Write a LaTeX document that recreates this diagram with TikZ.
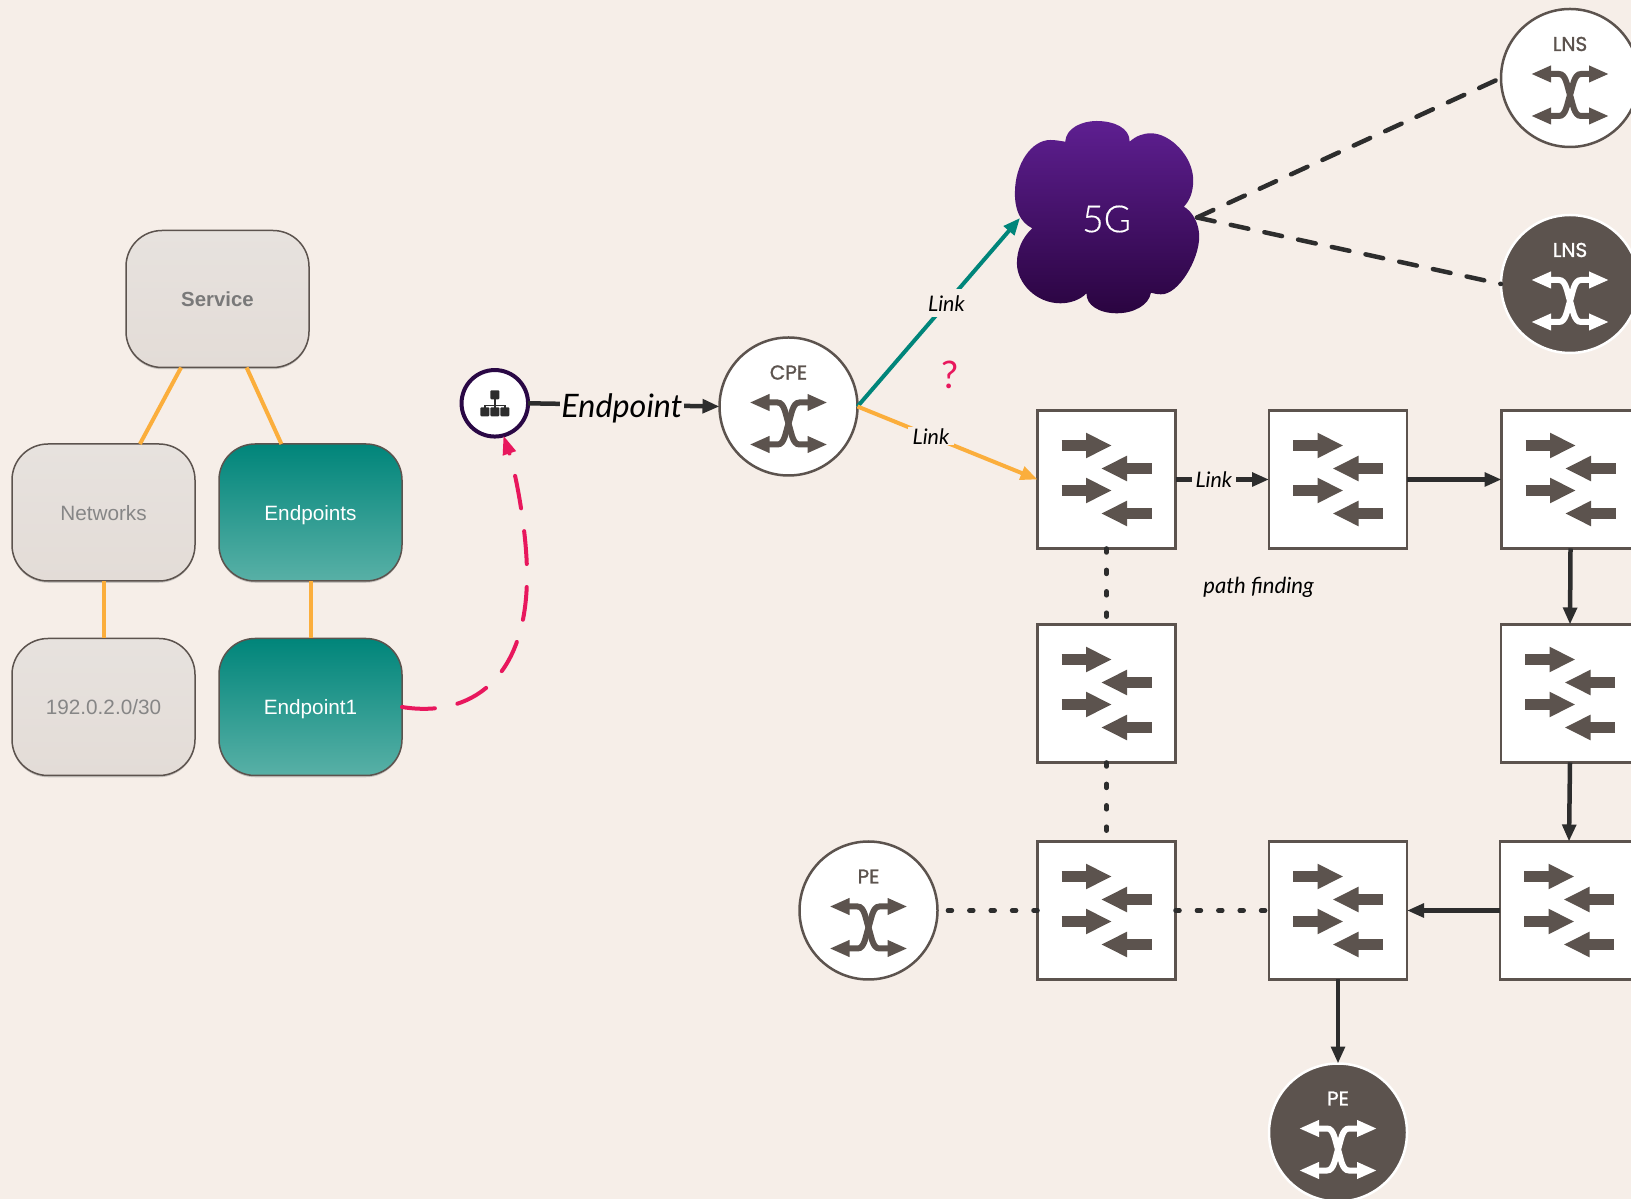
\documentclass[tikz,border=0pt]{standalone}
\usepackage{fontspec}
\setmainfont{Lato}
\newfontfamily\helvFont{Liberation Sans}
\newfontfamily\poppinsFont[FakeBold=1.2]{Poppins}
\newfontfamily\lightFont[FakeBold=0.4]{Lato Light}
\usetikzlibrary{arrows.meta,calc,shadows}
\definecolor{bgPaper}{HTML}{F6EEE8}
\definecolor{stoneDark}{HTML}{5C534E}
\definecolor{inkDark}{HTML}{2D2D2D}
\definecolor{linkOrange}{HTML}{FBAE3C}
\definecolor{linkTeal}{HTML}{00857A}
\definecolor{linkPink}{HTML}{E8175D}
\definecolor{endpointPurple}{HTML}{2A0845}
\tikzset{
  softbox/.style={rectangle, rounded corners=0.36cm, minimum width=1.83cm, minimum height=1.37cm, draw=stoneDark, line width=0.015cm, outer sep=0pt, inner sep=0pt, text height=6pt, text depth=1.6pt, drop shadow={shadow xshift=0pt, shadow yshift=-0.5pt, opacity=0.4}},
  graybox/.style={softbox, top color=E7top, bottom color=E3bot, text=gray!95, font=\helvFont\fontsize{5.9}{8}\selectfont},
  tealbox/.style={softbox, top color=linkTeal, bottom color=tealbot, text=white, font=\helvFont\fontsize{5.9}{8}\selectfont},
  router/.style={circle, minimum size=1.38cm, inner sep=0pt, outer sep=0pt, draw=stoneDark, fill=white, line width=0.025cm},
  routerdark/.style={router, draw=white, fill=stoneDark},
  routerlabel/.style={inner sep=0pt, text=stoneDark, font=\poppinsFont\fontsize{5.7}{7}\selectfont},
  routerlabeldark/.style={routerlabel, text=white},
  switchbox/.style={rectangle, minimum size=1.38cm, inner sep=0pt, outer sep=0pt, draw=stoneDark, fill=white, line width=0.025cm},
  flowtip/.style={-{Triangle[length=0.17cm,width=0.135cm]}},
  flow/.style={flowtip, draw=inkDark, line width=0.045cm},
  dottedlink/.style={draw=inkDark, line width=0.045cm, line cap=round, dash pattern=on 0.04cm off 0.174cm},
  dashedlink/.style={draw=inkDark, line width=0.045cm, line cap=round, dash pattern=on 0.18cm off 0.165cm},
  treeline/.style={draw=linkOrange, line width=0.04cm},
  linklabel/.style={fill=bgPaper, inner xsep=0.035cm, inner ysep=0.01cm, text=black, font=\itshape\fontsize{6.1}{7}\selectfont},
  routericon/.pic={
    \draw[{Triangle[length=0.2cm,width=0.155cm]}-{Triangle[length=0.2cm,width=0.155cm]}, line width=0.06cm, pic actions]
      (-0.39,-0.04) -- (-0.11,-0.04) .. controls (-0.04,-0.04) and (-0.03,0.08) .. (0,0.17) .. controls (0.03,0.26) and (0.04,0.38) .. (0.11,0.38) -- (0.39,0.38);
    \draw[{Triangle[length=0.2cm,width=0.155cm]}-{Triangle[length=0.2cm,width=0.155cm]}, line width=0.06cm, pic actions]
      (0.39,-0.04) -- (0.11,-0.04) .. controls (0.04,-0.04) and (0.03,0.08) .. (0,0.17) .. controls (-0.03,0.26) and (-0.04,0.38) .. (-0.11,0.38) -- (-0.39,0.38);
  },
  switchicon/.pic={
    \foreach \rowy in {-0.34,0.11}
      \draw[-{Triangle[length=0.26cm,width=0.235cm]}, draw=stoneDark, line width=0.115cm] (-0.45,\rowy) -- (0.055,\rowy);
    \foreach \rowy in {-0.11,0.34}
      \draw[-{Triangle[length=0.26cm,width=0.235cm]}, draw=stoneDark, line width=0.115cm] (0.45,\rowy) -- (-0.055,\rowy);
  },
  sitemapicon/.pic={
    \draw[draw=inkDark, line width=0.014cm] (0,-0.09) -- (0,0.08) (-0.1,0.08) -- (-0.1,0.02) -- (0.1,0.02) -- (0.1,0.08);
    \foreach \iconx/\icony in {0/-0.085,-0.1/0.085,0/0.085,0.1/0.085}
      \fill[inkDark, rounded corners=0.01cm] (\iconx-0.045,\icony-0.045) rectangle (\iconx+0.045,\icony+0.045);
  },
}
\definecolor{E7top}{HTML}{E7E2DE}
\definecolor{E3bot}{HTML}{E3DCD7}
\definecolor{tealbot}{HTML}{58B0A6}
\definecolor{cloudTop}{HTML}{5E1F91}
\definecolor{cloudBot}{HTML}{2A0440}
\begin{document}
\begin{tikzpicture}[x=1cm, y=-1cm]
  \useasboundingbox[fill=bgPaper] (0,0) rectangle (16.31,11.99);

  \node[graybox, text=gray!95!black, font=\helvFont\bfseries\fontsize{5.8}{8}\selectfont] (service) at (2.175,2.99) {Service};
  \node[graybox] (networks) at (1.035,5.125) {Networks};
  \node[tealbox] (endpoints) at (3.105,5.125) {Endpoints};
  \node[graybox] (prefix) at (1.035,7.07) {192.0.2.0/30};
  \node[tealbox] (endpointOne) at (3.105,7.07) {Endpoint1};

  \draw[treeline] (service.-118) -- (networks.62);
  \draw[treeline] (service.-67) -- (endpoints.113);
  \draw[treeline] (networks) -- (prefix);
  \draw[treeline] (endpoints) -- (endpointOne);

  \node[circle, minimum size=0.665cm, inner sep=0pt, outer sep=0pt, draw=endpointPurple, fill=white, line width=0.04cm] (endpoint) at (4.948,4.033) {};
  \pic at (endpoint) {sitemapicon};

  \foreach \name/\pos/\labeltext in {CPE/{7.885,4.065}/CPE, PEleft/{8.685,9.105}/PE, LNStop/{15.70,0.78}/LNS}{
    \node[router] (\name) at (\pos) {};
    \node[routerlabel] (\name label) at ([yshift=0.34cm]\name.center) {\labeltext};
    \pic[draw=stoneDark] at (\name) {routericon};
  }
  \foreach \name/\pos/\labeltext in {PEbottom/{13.38,11.325}/PE, LNSdark/{15.70,2.84}/LNS}{
    \node[routerdark] (\name) at (\pos) {};
    \node[routerlabeldark] (\name label) at ([yshift=0.34cm]\name.center) {\labeltext};
    \pic[draw=white] at (\name) {routericon};
  }

  \foreach \name/\pos in {swA/{11.065,4.795}, swB/{13.38,4.795}, swC/{15.705,4.795}, swD/{11.065,6.935}, swE/{15.70,6.935}, swF/{11.065,9.105}, swG/{13.38,9.105}, swH/{15.69,9.105}}{
    \node[switchbox] (\name) at (\pos) {};
    \pic at (\name) {switchicon};
  }

  \shade[top color=cloudTop, bottom color=cloudBot]
    (10.652,1.417) .. controls (10.66,1.28) and (10.82,1.21) .. (10.966,1.21) .. controls (11.14,1.21) and (11.30,1.28) .. (11.296,1.417)
    .. controls (11.36,1.36) and (11.43,1.333) .. (11.509,1.333) .. controls (11.70,1.333) and (11.93,1.56) .. (11.932,1.80) .. controls (11.932,1.92) and (11.90,2.0) .. (11.839,2.067)
    .. controls (11.93,2.12) and (11.992,2.24) .. (11.992,2.367) .. controls (11.992,2.60) and (11.78,2.95) .. (11.61,2.943) .. controls (11.57,2.943) and (11.54,2.935) .. (11.509,2.927)
    .. controls (11.49,3.05) and (11.34,3.133) .. (11.167,3.133) .. controls (10.99,3.133) and (10.86,3.05) .. (10.865,2.933)
    .. controls (10.80,3.0) and (10.70,3.033) .. (10.604,3.033) .. controls (10.36,3.033) and (10.169,2.83) .. (10.169,2.633) .. controls (10.169,2.50) and (10.22,2.38) .. (10.322,2.283)
    .. controls (10.20,2.22) and (10.149,2.10) .. (10.149,1.933) .. controls (10.149,1.63) and (10.32,1.40) .. (10.503,1.40) .. controls (10.56,1.40) and (10.60,1.41) .. (10.652,1.417) -- cycle;
  \node[text=white, inner sep=0pt, font=\lightFont\fontsize{10.6}{12}\selectfont] (cloud) at (11.066,2.19) {5G};
  \coordinate (cloudLeft) at (10.20,2.18);
  \coordinate (cloudRight) at (11.97,2.175);

  \draw[dashedlink] (cloudRight) -- (LNStop.west);
  \draw[dashedlink] (cloudRight) -- (LNSdark.west);

  \draw[flowtip, draw=linkTeal, line width=0.04cm] (CPE.east) -- node[linklabel, pos=0.547, inner ysep=0.06cm] (linkTeal) {Link} (cloudLeft);
  \draw[flowtip, draw=linkOrange, line width=0.04cm] (CPE.east) -- node[linklabel, pos=0.408, inner xsep=0.045cm] (linkOrange) {Link} (swA.west);

  \draw[flow] (endpoint.east) -- node[linklabel, pos=0.49, inner xsep=0.015cm, yshift=-0.035cm, font=\itshape\fontsize{9.2}{10}\selectfont] (endpointLabel) {Endpoint} (CPE.west);
  \draw[flow] (swA.east) -- node[linklabel, pos=0.41] (linkAB) {Link} (swB.west);
  \draw[flow] (swB.east) -- (swC.west);
  \draw[flow] (swC.south) -- (swE.north);
  \draw[flow] (swE.south) -- (swH.north);
  \draw[flow] (swH.west) -- (swG.east);
  \draw[flow] (swG.south) -- (PEbottom.north);

  \draw[dottedlink] (swA.south) -- (swD.north);
  \draw[dottedlink] (swD.south) -- (swF.north);
  \draw[dottedlink] (swF.west) -- (PEleft.east);
  \draw[dottedlink] (swF.east) -- (swG.west);

  \draw[-{Triangle[length=0.19cm,width=0.13cm]}, draw=linkPink, line width=0.04cm, line cap=round, dash pattern=on 0.33cm off 0.23cm] (endpointOne.east) .. controls (4.70,7.18) and (5.27,6.80) .. (5.27,5.75) .. controls (5.27,5.30) and (5.15,4.70) .. (endpoint.-75);

  \node[text=linkPink, inner sep=0pt, font=\fontsize{10.8}{12}\selectfont] (question) at (9.50,3.745) {?};
  \node[inner sep=0pt, text=black, font=\itshape\fontsize{6.3}{8}\selectfont] (pathFinding) at (12.586,5.875) {path finding};
\end{tikzpicture}
\end{document}
